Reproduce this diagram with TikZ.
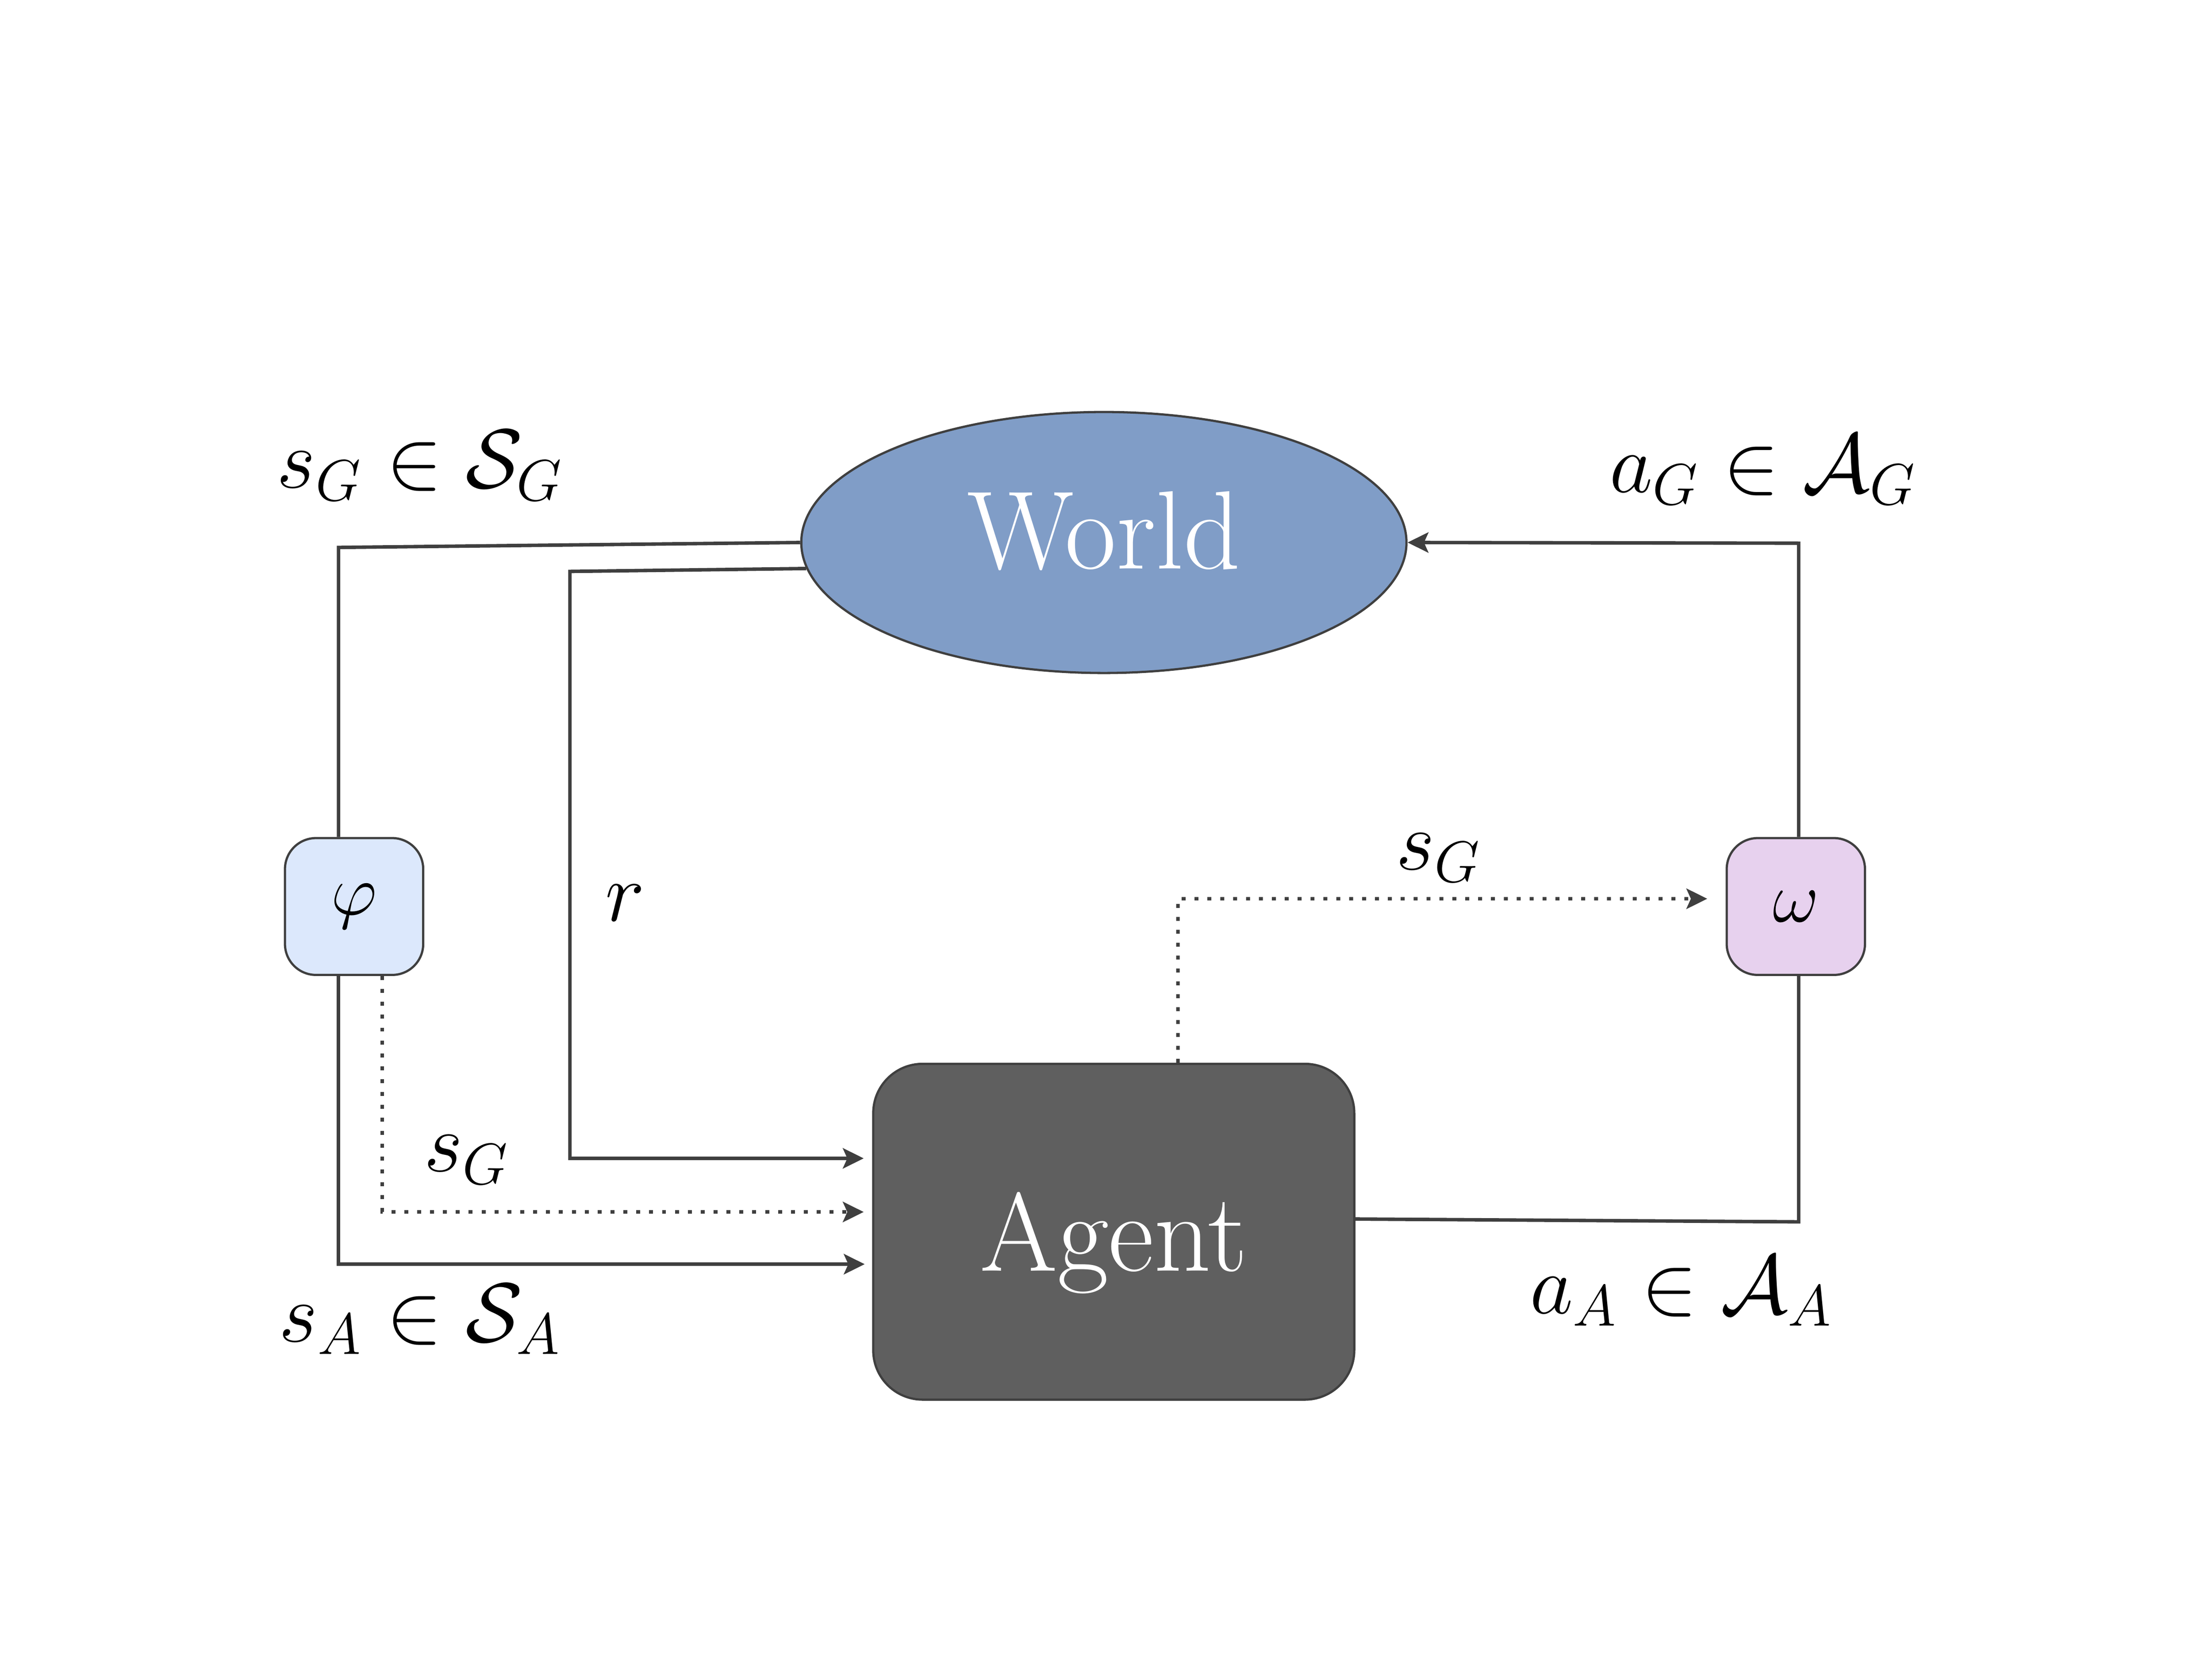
\documentclass[tikz,border=0pt]{standalone}
\usepackage{amsmath}
\usepackage{amssymb}
\usepackage{tikz}
\usetikzlibrary{arrows.meta}
\usetikzlibrary{shapes}
\usetikzlibrary{calc}

\definecolor{worldblue}{HTML}{809DC7}
\definecolor{agentgray}{HTML}{5F5F5F}
\definecolor{phiblue}{HTML}{DCE8FC}
\definecolor{omegapink}{HTML}{E7D1EE}
\definecolor{edgegray}{HTML}{3F3F3F}

\begin{document}
\begin{tikzpicture}[x=0.1mm,y=-0.1mm,
		link/.style={draw=edgegray, line width=0.7pt},
		arr/.style={-{Stealth[length=4.2pt,width=4.1pt,inset=0.9pt]}},
		sigdotted/.style={dash pattern=on 0.8pt off 1.8pt},
		bigtxt/.style={text=white, font=\fontsize{22.5}{27}\selectfont, draw=edgegray, line width=0.45pt, inner sep=0pt},
		mathlbl/.style={font=\LARGE, scale=0.98, transform shape, inner sep=0pt},
		mapbox/.style={draw=edgegray, line width=0.45pt, rounded corners=0.22cm, minimum width=0.98cm, minimum height=0.97cm, inner sep=0pt, font=\Large}]
		\useasboundingbox (0,0) rectangle (1568,1177);
		
		\node[bigtxt, ellipse, fill=worldblue, minimum width=4.29cm, minimum height=1.85cm, text depth=5pt] (world) at (782.5,384.5) {World};
		\node[bigtxt, fill=agentgray, rounded corners=0.35cm, minimum width=3.41cm, minimum height=2.38cm, text depth=0pt] (agent) at (789.5,873) {Agent};
		\node[mapbox, fill=phiblue] (phi) at (251,642.5) {$\varphi$};
		\node[mapbox, fill=omegapink] (omega) at (1273,642.5) {$\omega$};
		
		\draw[link] (world.west) -- (240,388) -- ($(phi.north)+(-11,0)$);
		\draw[link, arr, shorten >=1.7pt] (world.185) -- (404,405) -- (404,821) -- ($(agent.west)+(0,-52)$);
		\draw[link, arr, sigdotted, shorten >=1.7pt] ($(phi.south)+(20,0)$) -- (271,859) -- ($(agent.west)+(0,-14)$);
		\draw[link, arr, shorten >=1.5pt] ($(phi.south)+(-11,0)$) -- (240,896) -- ($(agent.west)+(0,23)$);
		\draw[link, arr, sigdotted, shorten >=3.7pt] ($(agent.north)+(45.5,0)$) -- (835,637) -- ($(omega.west)+(0,-5.5)$);
		\draw[link] ($(agent.east)+(0,-9)$) -- (1275,866) -- ($(omega.south)+(2,0)$);
		\draw[link, arr] ($(omega.north)+(2,0)$) -- (1275,385) -- (world.east);
		
		\node[mathlbl] (sgworld) at (298,330) {$s_G \in \mathcal{S}_G$};
		\node[mathlbl] (agworld) at (1250,333) {$a_G \in \mathcal{A}_G$};
		\node[mathlbl] (rew) at (443,640) {$r$};
		\node[mathlbl] (sgomega) at (1020,608) {$s_G$};
		\node[mathlbl] (sgagent) at (331,822) {$s_G$};
		\node[mathlbl] (saagent) at (298,935) {$s_A \in \mathcal{S}_A$};
		\node[mathlbl] (aaagent) at (1192,915) {$a_A \in \mathcal{A}_A$};
\end{tikzpicture}
\end{document}
